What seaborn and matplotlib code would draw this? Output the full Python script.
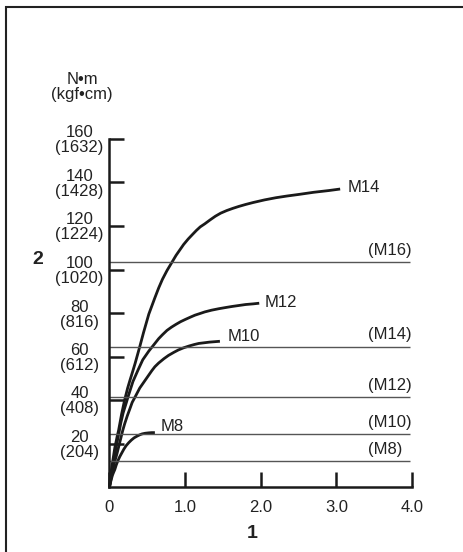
import matplotlib
matplotlib.use('Agg')
import matplotlib.pyplot as plt
import seaborn as sns
import pandas as pd
from matplotlib.patches import Rectangle

# Curvas de torque
m14_x = [0, 0.015, 0.03, 0.05, 0.07, 0.1, 0.12, 0.16, 0.2, 0.24, 0.27, 0.31, 0.34, 0.4, 0.45, 0.52, 0.6, 0.65, 0.7, 0.76, 0.82, 0.88, 0.93, 0.98, 1.04, 1.1, 1.15, 1.2, 1.26, 1.33, 1.4, 1.47, 1.55, 1.63, 1.71, 1.8, 1.9, 2.05, 2.2, 2.35, 2.5, 2.7, 2.9, 3.05]
m14_y = [0, 5, 9, 13.5, 18, 23, 26, 33.5, 40, 45.5, 49, 53.5, 57, 64.5, 71, 79.5, 87, 91.5, 95.5, 99.5, 103, 106.5, 109, 111.5, 114, 116.2, 118, 119.6, 121, 122.8, 124.5, 125.9, 127.1, 128.1, 129, 129.9, 130.8, 132, 133, 133.8, 134.5, 135.5, 136.3, 137]
m12_x = [0, 0.015, 0.03, 0.05, 0.07, 0.1, 0.12, 0.15, 0.18, 0.22, 0.25, 0.31, 0.38, 0.44, 0.52, 0.6, 0.65, 0.7, 0.76, 0.82, 0.88, 0.94, 1.0, 1.07, 1.13, 1.2, 1.26, 1.35, 1.45, 1.55, 1.62, 1.72, 1.8, 1.9, 1.98]
m12_y = [0, 3.5, 7, 11, 15, 20.5, 24, 29.5, 34, 38.5, 42, 48.5, 54, 58.5, 62.5, 66, 68.2, 70, 72, 73.5, 74.8, 76, 77, 78.1, 79, 79.8, 80.5, 81.3, 82, 82.6, 83, 83.5, 83.9, 84.2, 84.5]
m10_x = [0, 0.015, 0.03, 0.045, 0.06, 0.08, 0.1, 0.125, 0.15, 0.175, 0.2, 0.235, 0.27, 0.3, 0.34, 0.4, 0.47, 0.52, 0.56, 0.6, 0.65, 0.72, 0.78, 0.85, 0.91, 0.98, 1.05, 1.12, 1.18, 1.25, 1.32, 1.39, 1.46]
m10_y = [0, 2.8, 5.5, 8, 10.5, 13, 15.5, 19, 22.5, 26, 29, 32.7, 36, 38.9, 41.5, 45.5, 49, 51.5, 53.5, 55.3, 57, 59, 60.5, 61.9, 63, 64, 64.8, 65.5, 66, 66.3, 66.6, 66.8, 67]
m8_x = [0, 0.01, 0.02, 0.03, 0.04, 0.055, 0.07, 0.09, 0.11, 0.135, 0.16, 0.19, 0.22, 0.255, 0.29, 0.325, 0.36, 0.4, 0.43, 0.47, 0.52, 0.56, 0.6]
m8_y = [0, 1.6, 3, 4.3, 5.5, 6.8, 8, 10.2, 12, 13.9, 15.5, 17.4, 19, 20.4, 21.6, 22.6, 23.3, 24, 24.4, 24.7, 24.9, 25, 25]

# Linhas de limite
limite_nomes = ['(M16)', '(M14)', '(M12)', '(M10)', '(M8)']
limite_valores = [103.4, 64.4, 41.2, 24.2, 11.8]

x_ticks = [0, 1, 2, 3, 4]
x_tick_labels = ['0', '1.0', '2.0', '3.0', '4.0']
y_ticks = [20, 40, 60, 80, 100, 120, 140, 160]
y_kgf = [204, 408, 612, 816, 1020, 1224, 1428, 1632]

df = pd.concat([
    pd.DataFrame({'x': m14_x, 'y': m14_y, 'parafuso': 'M14'}),
    pd.DataFrame({'x': m12_x, 'y': m12_y, 'parafuso': 'M12'}),
    pd.DataFrame({'x': m10_x, 'y': m10_y, 'parafuso': 'M10'}),
    pd.DataFrame({'x': m8_x, 'y': m8_y, 'parafuso': 'M8'}),
])

sns.set_theme(style='white')
plt.rcParams['font.family'] = ['Liberation Sans', 'DejaVu Sans']

fig = plt.figure(figsize=(4.64, 5.52), dpi=100)
ax = fig.add_axes([109.5/464, 65/552, 302.5/464, 348/552])

cor = '#1a1a1a'
sns.lineplot(data=df, x='x', y='y', hue='parafuso', units='parafuso', estimator=None, sort=False,
             palette={'M14': cor, 'M12': cor, 'M10': cor, 'M8': cor},
             linewidth=2.0, legend=False, ax=ax, clip_on=False,
             solid_joinstyle='round', solid_capstyle='butt')

# Linhas horizontais
ax.hlines(limite_valores, 0, 3.97, color='#555555', linewidth=1.0, clip_on=False)
for nome, v in zip(limite_nomes, limite_valores):
    ax.text(3.42, v + 5.5, nome, fontsize=12, color='#222222', ha='left', va='center', clip_on=False)

# Rótulos das curvas
ax.text(3.15, 137.5, 'M14', fontsize=12, color='#222222', va='center')
ax.text(2.05, 85, 'M12', fontsize=12, color='#222222', va='center')
ax.text(1.56, 69, 'M10', fontsize=12, color='#222222', va='center')
ax.text(0.67, 27.6, 'M8', fontsize=12, color='#222222', va='center')

ax.set_xlim(0, 4)
ax.set_ylim(0, 160)
ax.set_xticks(x_ticks)
ax.set_xticklabels(x_tick_labels)
ax.set_yticks(y_ticks)
ax.set_yticklabels([f'{a}\n({b})' for a, b in zip(y_ticks, y_kgf)], linespacing=1.0)
for lbl in ax.get_yticklabels():
    lbl.set_horizontalalignment('center')
ax.tick_params(axis='both', direction='in', length=11, width=1.8, color=cor,
               labelsize=12, labelcolor='#222222', bottom=True, left=True)
ax.tick_params(axis='y', pad=21.5)
ax.tick_params(axis='x', pad=9)
ax.set_xlabel('')
ax.set_ylabel('')
sns.despine(ax=ax)
for s in ['left', 'bottom']:
    ax.spines[s].set_linewidth(1.8)
    ax.spines[s].set_color(cor)
ax.patch.set_alpha(0)

# Títulos dos eixos
fig.text(82/464, 1 - 87/552, 'N•m\n(kgf•cm)', fontsize=12, ha='center', va='center',
         linespacing=0.95, color='#222222')
fig.text(38/464, 1 - 259/552, '2', fontsize=14, fontweight='bold', ha='center', va='center', color='#222222')
fig.text(252/464, 1 - 534/552, '1', fontsize=14, fontweight='bold', ha='center', va='center', color='#222222')

# Moldura
fig.patches.append(Rectangle((6.5/464, -0.1), 1.2, 1.1 - 6.5/552, transform=fig.transFigure,
                             fill=False, edgecolor='#222222', linewidth=1.5))

fig.savefig('out.png', dpi=100)
